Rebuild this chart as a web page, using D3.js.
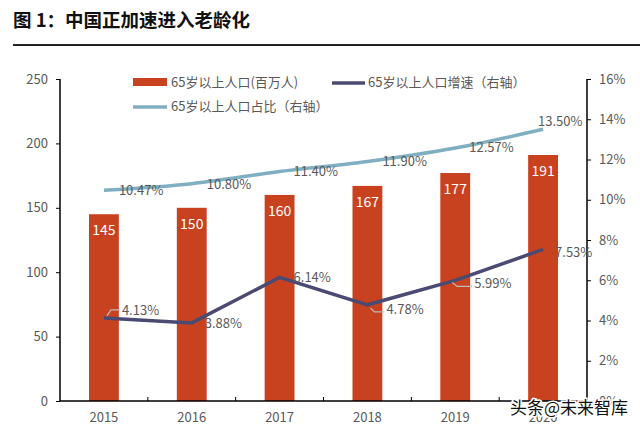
<!DOCTYPE html>
<html><head><meta charset="utf-8">
<script src="https://cdn.jsdelivr.net/npm/d3@7"></script>
<style>
body{margin:0;background:#fff;}
svg{display:block;font-family:"Noto Sans CJK SC","Noto Sans",sans-serif;}
</style></head>
<body><svg id="c" width="640" height="430"></svg>
<script>
const years = ["2015","2016","2017","2018","2019","2020"];
const population = [145,150,160,167,177,191];
const growth = [4.13,3.88,6.14,4.78,5.99,7.53];
const share = [10.47,10.80,11.40,11.90,12.57,13.50];
const leftTicks = [0,50,100,150,200,250];
const rightTicks = [0,2,4,6,8,10,12,14,16];
const seriesNames = ["65岁以上人口(百万人)","65岁以上人口增速（右轴）","65岁以上人口占比（右轴）"];
const title = "图 1：中国正加速进入老龄化";
const watermark = "头条@未来智库";

const svg = d3.select("#c");
const L=60,R=587,T=79,B=401;
const x = d3.scaleBand().domain(years).range([L,R]).paddingInner(0.66).paddingOuter(0.33);
const yL = d3.scaleLinear().domain([0,250]).range([B,T]);
const yR = d3.scaleLinear().domain([0,16]).range([B,T]);
const cx = d => x(d)+x.bandwidth()/2;
const grey="#595959";

// title
svg.append("text").attr("x",13).attr("y",27).attr("font-size",18.5).attr("font-weight","bold").attr("fill","#111").text(title);
svg.append("line").attr("x1",13).attr("x2",640).attr("y1",45).attr("y2",45).attr("stroke","#222").attr("stroke-width",2);

// bars
svg.selectAll("rect.bar").data(years).join("rect").attr("class","bar")
  .attr("x",d=>x(d)).attr("width",x.bandwidth())
  .attr("y",(d,i)=>yL(population[i])).attr("height",(d,i)=>B-yL(population[i]))
  .attr("fill","#C9421F");
svg.selectAll("text.bv").data(years).join("text").attr("class","bv")
  .attr("x",d=>cx(d)).attr("y",(d,i)=>yL(population[i])+21)
  .attr("text-anchor","middle").attr("font-size",14).attr("fill","#fff")
  .text((d,i)=>population[i]);

// axes
const axL = svg.append("g").attr("transform",`translate(${L},0)`)
  .call(d3.axisLeft(yL).tickValues(leftTicks).tickSize(4).tickPadding(8));
const axR = svg.append("g").attr("transform",`translate(${R},0)`)
  .call(d3.axisRight(yR).tickValues(rightTicks).tickSize(4).tickPadding(8).tickFormat(d=>d+"%"));
const axB = svg.append("g").attr("transform",`translate(0,${B})`)
  .call(d3.axisBottom(x).tickSize(0).tickPadding(12));
const bounds = years.slice(1).map(d=>x(d)-x.step()*x.paddingInner()/2);
svg.selectAll("line.xt").data(bounds).join("line").attr("class","xt")
  .attr("x1",d=>d).attr("x2",d=>d).attr("y1",B).attr("y2",B-4).attr("stroke","#000");
[axL,axR,axB].forEach(g=>{
  g.selectAll(".domain").attr("stroke","#000").attr("stroke-width",1.5);
  g.selectAll(".tick line").attr("stroke","#000");
  g.selectAll("text").attr("font-size",13).attr("fill",grey).attr("font-family",'"Noto Sans CJK SC",sans-serif');
});
axL.select(".domain").attr("d",`M0,${T}V${B}`);
axR.select(".domain").attr("d",`M0,${T}V${B}`);
axB.select(".domain").attr("d",`M${L},0H${R}`);

// share line (smooth)
svg.append("path").datum(share)
  .attr("d",d3.line().x((d,i)=>cx(years[i])).y(d=>yR(d)).curve(d3.curveMonotoneX))
  .attr("fill","none").attr("stroke","#7FAFC1").attr("stroke-width",3.5);
// growth line
svg.append("path").datum(growth)
  .attr("d",d3.line().x((d,i)=>cx(years[i])).y(d=>yR(d)))
  .attr("fill","none").attr("stroke","#4B4A73").attr("stroke-width",3.5);

// share labels
const shareOff = [[15,5],[15,5],[14,4],[15,4],[14,4],[-5,-3]];
svg.selectAll("text.sl").data(share).join("text").attr("class","sl")
  .attr("x",(d,i)=>cx(years[i])+shareOff[i][0]).attr("y",(d,i)=>yR(d)+shareOff[i][1])
  .attr("font-size",13).attr("fill",grey).text(d=>d.toFixed(2)+"%");
// growth labels
const growthOff = [[18,-3],[13,5],[14,5],[19,9],[19,8],[12,8]];
svg.selectAll("text.gl").data(growth).join("text").attr("class","gl")
  .attr("x",(d,i)=>cx(years[i])+growthOff[i][0]).attr("y",(d,i)=>yR(d)+growthOff[i][1])
  .attr("font-size",13).attr("fill",grey).text(d=>d.toFixed(2)+"%");
// leader lines
const leaders = [[0,[[3,-2],[7,-8],[16,-8]]],[3,[[3,3],[7,7],[17,7]]],[4,[[-3,2],[2,6],[17,6]]]];
leaders.forEach(([i,pts])=>{
  svg.append("path").attr("d",d3.line()(pts.map(p=>[cx(years[i])+p[0],yR(growth[i])+p[1]])))
    .attr("fill","none").attr("stroke","#bbb").attr("stroke-width",1.2);
});

// legend
const lg = svg.append("g").attr("font-size",13).attr("fill",grey);
lg.append("rect").attr("x",133).attr("y",78).attr("width",34).attr("height",8).attr("fill","#C9421F");
lg.append("text").attr("x",171).attr("y",87).attr("fill",grey).text(seriesNames[0]);
lg.append("line").attr("x1",332).attr("x2",365).attr("y1",83).attr("y2",83).attr("stroke","#4B4A73").attr("stroke-width",3.5);
lg.append("text").attr("x",368).attr("y",87).attr("fill",grey).text(seriesNames[1]);
lg.append("line").attr("x1",133).attr("x2",167).attr("y1",107).attr("y2",107).attr("stroke","#7FAFC1").attr("stroke-width",3.5);
lg.append("text").attr("x",171).attr("y",111).attr("fill",grey).text(seriesNames[2]);

// watermark
svg.append("text").attr("x",510).attr("y",414).attr("font-size",17)
  .attr("fill","#111").attr("stroke","#fff").attr("stroke-width",3).attr("paint-order","stroke")
  .text(watermark);
</script></body></html>
